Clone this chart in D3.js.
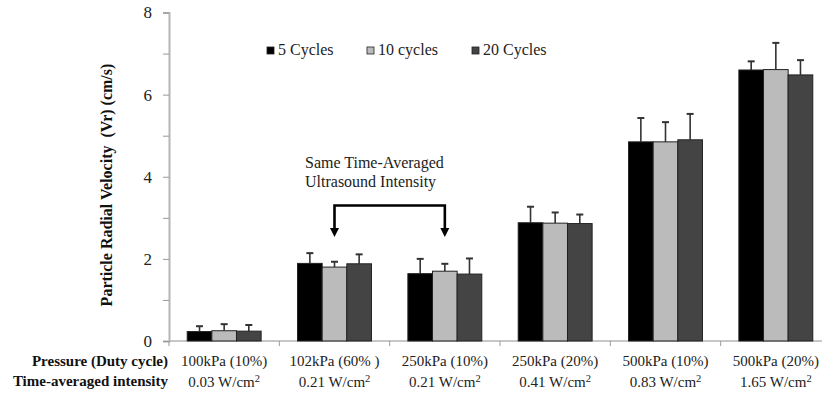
<!DOCTYPE html>
<html>
<head>
<meta charset="utf-8">
<script src="https://cdn.jsdelivr.net/npm/d3@7"></script>
<style>
  html, body { margin: 0; padding: 0; background: #fff; }
  svg { display: block; font-family: "Liberation Serif", "Times New Roman", serif; }
</style>
</head>
<body>
<svg id="chart" width="822" height="399"></svg>
<script>
// Conditions on the x axis
const pressureLabels = ["100kPa (10%)", "102kPa (60% )", "250kPa (10%)", "250kPa (20%)", "500kPa (10%)", "500kPa (20%)"];
const intensityValues = ["0.03", "0.21", "0.21", "0.41", "0.83", "1.65"];

// Series
const seriesNames = ["5 Cycles", "10 cycles", "20 Cycles"];
const seriesColors = ["#000000", "#bbbbbb", "#444444"];

// Mean radial velocity (cm/s) per series
const cycles5  = [0.23, 1.89, 1.64, 2.88, 4.85, 6.60];
const cycles10 = [0.25, 1.80, 1.70, 2.87, 4.85, 6.61];
const cycles20 = [0.24, 1.88, 1.63, 2.86, 4.90, 6.48];

// Upper error (cm/s) per series
const err5  = [0.13, 0.25, 0.36, 0.39, 0.58, 0.21];
const err10 = [0.16, 0.13, 0.18, 0.26, 0.48, 0.65];
const err20 = [0.15, 0.23, 0.38, 0.22, 0.63, 0.36];

const yTicks = [0, 1, 2, 3, 4, 5, 6, 7, 8];

const means = [cycles5, cycles10, cycles20];
const errs = [err5, err10, err20];

const svg = d3.select("#chart");

const x0 = d3.scaleBand()
  .domain(pressureLabels)
  .range([169, 831])
  .paddingInner(0.33)
  .paddingOuter(0.165);

const x1 = d3.scaleBand()
  .domain(seriesNames)
  .range([0, x0.bandwidth()]);

const y = d3.scaleLinear().domain([0, 8]).range([341, 12.5]);

// Y axis
const yAxis = d3.axisLeft(y).tickValues(yTicks).tickSize(6).tickPadding(11)
  .tickFormat(d => d % 2 === 0 ? d : "");
const gy = svg.append("g").attr("transform", "translate(169,0)").call(yAxis);
gy.select(".domain").attr("stroke", "#b5b5b5").attr("stroke-width", 2);
gy.selectAll(".tick line").attr("stroke", "#999");
gy.selectAll(".tick text")
  .attr("font-family", "Liberation Serif")
  .attr("font-size", 17)
  .attr("fill", "#222");

// X axis baseline with separators between categories
svg.append("line")
  .attr("x1", 169).attr("x2", 831)
  .attr("y1", y(0)).attr("y2", y(0))
  .attr("stroke", "#b5b5b5").attr("stroke-width", 1.5);
const step = x0.step();
d3.range(pressureLabels.length + 1).forEach(i => {
  svg.append("line")
    .attr("x1", 169 + i * step).attr("x2", 169 + i * step)
    .attr("y1", y(0)).attr("y2", y(0) + 5)
    .attr("stroke", "#999").attr("stroke-width", 1);
});

// Bars
const groups = svg.append("g").selectAll("g")
  .data(pressureLabels)
  .join("g")
  .attr("transform", d => `translate(${x0(d)},0)`);

groups.each(function(cat, ci) {
  const g = d3.select(this);
  seriesNames.forEach((s, si) => {
    const v = means[si][ci];
    const e = errs[si][ci];
    const bx = x1(s);
    const cx = bx + x1.bandwidth() / 2;
    // error bar (upper only)
    g.append("line")
      .attr("x1", cx).attr("x2", cx)
      .attr("y1", y(v)).attr("y2", y(v + e))
      .attr("stroke", "#333").attr("stroke-width", 1.6);
    g.append("line")
      .attr("x1", cx - 3.5).attr("x2", cx + 3.5)
      .attr("y1", y(v + e)).attr("y2", y(v + e))
      .attr("stroke", "#333").attr("stroke-width", 2);
    g.append("rect")
      .attr("x", bx).attr("width", x1.bandwidth())
      .attr("y", y(v)).attr("height", y(0) - y(v))
      .attr("fill", seriesColors[si])
      .attr("stroke", "#222").attr("stroke-width", 1);
  });
});

// Category labels below the axis
svg.append("g").selectAll("text")
  .data(pressureLabels)
  .join("text")
  .attr("x", d => x0(d) + x0.bandwidth() / 2)
  .attr("y", 366)
  .attr("text-anchor", "middle")
  .attr("font-size", 15)
  .attr("fill", "#222")
  .text(d => d);

const intText = svg.append("g").selectAll("text")
  .data(pressureLabels)
  .join("text")
  .attr("x", d => x0(d) + x0.bandwidth() / 2)
  .attr("y", 387)
  .attr("text-anchor", "middle")
  .attr("font-size", 15)
  .attr("fill", "#222");
intText.append("tspan").text((d, i) => intensityValues[i] + " W/cm");
intText.append("tspan").attr("dy", -5).attr("font-size", 10.5).text("2");

// Row headers
svg.append("text")
  .attr("x", 168).attr("y", 366)
  .attr("text-anchor", "end")
  .attr("font-weight", "bold")
  .attr("font-size", 15)
  .attr("fill", "#111")
  .text("Pressure (Duty cycle)");
svg.append("text")
  .attr("x", 168).attr("y", 386)
  .attr("text-anchor", "end")
  .attr("font-weight", "bold")
  .attr("font-size", 15)
  .attr("fill", "#111")
  .text("Time-averaged intensity");

// Y axis title
svg.append("text")
  .attr("transform", "translate(112,185) rotate(-90)")
  .attr("text-anchor", "middle")
  .attr("font-weight", "bold")
  .attr("font-size", 16)
  .attr("fill", "#111")
  .attr("xml:space", "preserve")
  .style("white-space", "pre")
  .text("Particle Radial Velocity  (Vr) (cm/s)");

// Legend
const legendX = [267, 367, 472];
const legend = svg.append("g").selectAll("g")
  .data(seriesNames)
  .join("g")
  .attr("transform", (d, i) => `translate(${legendX[i]},47)`);
legend.append("rect")
  .attr("width", 7).attr("height", 7)
  .attr("fill", (d, i) => seriesColors[i])
  .attr("stroke", "#222").attr("stroke-width", 0.8);
legend.append("text")
  .attr("x", 11).attr("y", 8)
  .attr("font-size", 16)
  .attr("fill", "#222")
  .text(d => d);

// Annotation: same time-averaged intensity bracket
svg.append("text")
  .attr("x", 305).attr("y", 168)
  .attr("font-size", 16).attr("fill", "#222")
  .text("Same Time-Averaged");
svg.append("text")
  .attr("x", 305).attr("y", 187)
  .attr("font-size", 16).attr("fill", "#222")
  .text("Ultrasound Intensity");

const bracketLeft = x0(pressureLabels[1]) + x0.bandwidth() / 2;
const bracketRight = x0(pressureLabels[2]) + x0.bandwidth() / 2;
const bracketTop = 205.5;
const arrowTip = 237;
svg.append("path")
  .attr("d", `M${bracketLeft},${arrowTip - 8} V${bracketTop} H${bracketRight} V${arrowTip - 8}`)
  .attr("fill", "none").attr("stroke", "#000").attr("stroke-width", 2.6);
[bracketLeft, bracketRight].forEach(ax => {
  svg.append("path")
    .attr("d", `M${ax - 4.5},${arrowTip - 9} L${ax + 4.5},${arrowTip - 9} L${ax},${arrowTip} Z`)
    .attr("fill", "#000");
});
</script>
</body>
</html>
